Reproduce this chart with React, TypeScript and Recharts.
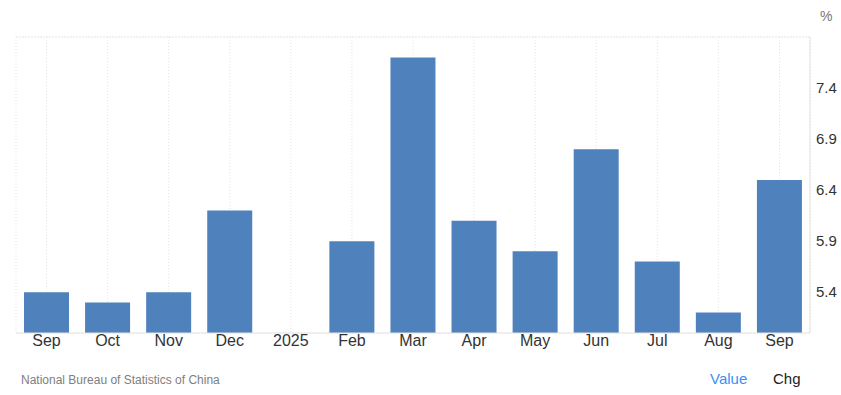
import React from 'react'
import {
  BarChart, Bar, XAxis, YAxis, CartesianGrid, ReferenceLine,
} from 'recharts'

const MONTHS = ['Sep', 'Oct', 'Nov', 'Dec', '2025', 'Feb', 'Mar', 'Apr', 'May', 'Jun', 'Jul', 'Aug', 'Sep']
const VALUES: (number | null)[] = [5.4, 5.3, 5.4, 6.2, null, 5.9, 7.7, 6.1, 5.8, 6.8, 5.7, 5.2, 6.5]
const Y_TICKS = [5.4, 5.9, 6.4, 6.9, 7.4]
const Y_DOMAIN = [5.0, 7.9]

const data = MONTHS.map((m, i) => ({ key: i, month: m, value: VALUES[i] }))

const FONT = '"Liberation Sans", Arial, sans-serif'
const GRID = '#e3e3e3'

export default function App() {
  return (
    <div style={{ position: 'absolute', left: 0, top: 0, width: 841, height: 395, background: '#fff', fontFamily: FONT }}>
      <BarChart
        width={841}
        height={395}
        data={data}
        margin={{ top: 37, right: 0, left: 16, bottom: 0 }}
      >
        <CartesianGrid
          stroke={GRID}
          strokeDasharray="1 2"
          horizontal
          vertical
        />
        <ReferenceLine yAxisId="r" y={7.9} stroke={GRID} strokeDasharray="1 2" />
        <XAxis
          dataKey="key"
          tickFormatter={(i) => MONTHS[i]}
          interval={0}
          tickLine={false}
          axisLine={{ stroke: GRID }}
          tick={{ fontSize: 16, fill: '#333', fontFamily: FONT }}
          tickSize={0}
          tickMargin={2}
          height={62}
        />
        <YAxis
          yAxisId="l"
          orientation="left"
          domain={Y_DOMAIN}
          tick={false}
          tickLine={false}
          width={0}
          axisLine={{ stroke: GRID }}
        />
        <YAxis
          yAxisId="r"
          orientation="right"
          domain={Y_DOMAIN}
          ticks={Y_TICKS}
          allowDataOverflow
          tickLine={false}
          axisLine={{ stroke: GRID }}
          tickSize={0}
          tickMargin={6}
          width={31}
          tick={{ fontSize: 15, fill: '#333', fontFamily: FONT }}
        />
        <Bar yAxisId="r" dataKey="value" fill="#4f81bd" barSize={45} isAnimationActive={false} />
      </BarChart>
      <div style={{ position: 'absolute', left: 820, top: 8, fontSize: 14, color: '#777' }}>%</div>
      <div style={{ position: 'absolute', left: 21, top: 373, fontSize: 12, color: '#808080' }}>
        National Bureau of Statistics of China
      </div>
      <div style={{ position: 'absolute', left: 710, top: 370, fontSize: 15, color: '#3a8ff5' }}>Value</div>
      <div style={{ position: 'absolute', left: 773, top: 370, fontSize: 15, color: '#222' }}>Chg</div>
    </div>
  )
}
